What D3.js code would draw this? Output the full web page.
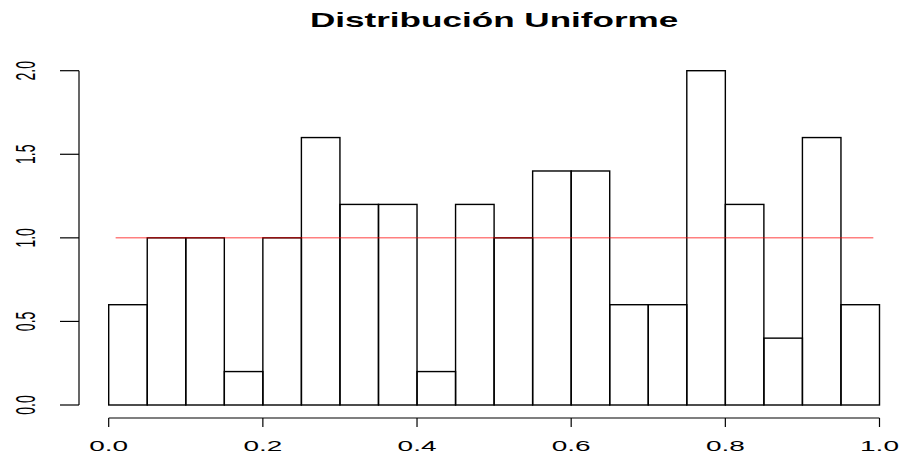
<!DOCTYPE html>
<html>
<head>
<meta charset="utf-8">
<script src="https://cdn.jsdelivr.net/npm/d3@7"></script>
<style>
  body { margin: 0; background: #fff; }
  svg { display: block; font-family: "Liberation Sans", Arial, sans-serif; }
</style>
</head>
<body>
<div id="chart"></div>
<script>
// histogram data (density per bin of width 0.05)
const binEdges = d3.range(0, 1.0001, 0.05).map(v => +v.toFixed(2));
const densities = [0.6, 1.0, 1.0, 0.2, 1.0, 1.6, 1.2, 1.2, 0.2, 1.2,
                   1.0, 1.4, 1.4, 0.6, 0.6, 2.0, 1.2, 0.4, 1.6, 0.6];
const xTicks = [0, 0.2, 0.4, 0.6, 0.8, 1.0];
const yTicks = [0, 0.5, 1.0, 1.5, 2.0];
const refLine = [{ x: 0.009, y: 1 }, { x: 0.992, y: 1 }];
const title = 'Distribución Uniforme';

const width = 904, height = 458;
const svg = d3.select('#chart').append('svg')
  .attr('width', width).attr('height', height);

const x = d3.scaleLinear().domain([0, 1]).range([108.7, 879.5]);
const y = d3.scaleLinear().domain([0, 2]).range([405, 70.7]);

// bars
const bars = densities.map((d, i) => ({ x0: binEdges[i], x1: binEdges[i + 1], v: d }));
svg.append('g').selectAll('rect')
  .data(bars).enter().append('rect')
  .attr('x', d => x(d.x0))
  .attr('y', d => y(d.v))
  .attr('width', d => x(d.x1) - x(d.x0))
  .attr('height', d => y(0) - y(d.v))
  .attr('fill', 'none')
  .attr('stroke', '#000')
  .attr('stroke-width', 1.4);

// reference density line
svg.append('path')
  .datum(refLine)
  .attr('d', d3.line().x(d => x(d.x)).y(d => y(d.y)))
  .attr('stroke', 'rgba(255,0,0,0.5)')
  .attr('stroke-width', 1.5)
  .attr('fill', 'none');

// x axis (R style, detached)
const axY = 418;
const gx = svg.append('g').attr('stroke', '#000').attr('stroke-width', 1.2);
gx.append('line').attr('x1', x(0)).attr('x2', x(1)).attr('y1', axY).attr('y2', axY);
gx.selectAll('.t').data(xTicks).enter().append('line')
  .attr('x1', d => x(d)).attr('x2', d => x(d))
  .attr('y1', axY).attr('y2', axY + 9);
svg.append('g').selectAll('text').data(xTicks).enter().append('text')
  .attr('transform', d => `translate(${x(d)},451) scale(2,1)`)
  .attr('text-anchor', 'middle')
  .attr('font-size', 14)
  .text(d => d3.format('.1f')(d));

// y axis
const axX = 79;
const gy = svg.append('g').attr('stroke', '#000').attr('stroke-width', 1.2);
gy.append('line').attr('x1', axX).attr('x2', axX).attr('y1', y(0)).attr('y2', y(2));
gy.selectAll('.t').data(yTicks).enter().append('line')
  .attr('x1', axX - 19).attr('x2', axX)
  .attr('y1', d => y(d)).attr('y2', d => y(d));
svg.append('g').selectAll('text').data(yTicks).enter().append('text')
  .attr('transform', d => `translate(35,${y(d)}) scale(2,1) rotate(-90)`)
  .attr('text-anchor', 'middle')
  .attr('font-size', 14)
  .text(d => d3.format('.1f')(d));

// title
svg.append('text')
  .attr('transform', `translate(${(x(0) + x(1)) / 2},26.7) scale(1.8,1)`)
  .attr('text-anchor', 'middle')
  .attr('font-size', 19.5)
  .attr('font-weight', 'bold')
  .text(title);
</script>
</body>
</html>
